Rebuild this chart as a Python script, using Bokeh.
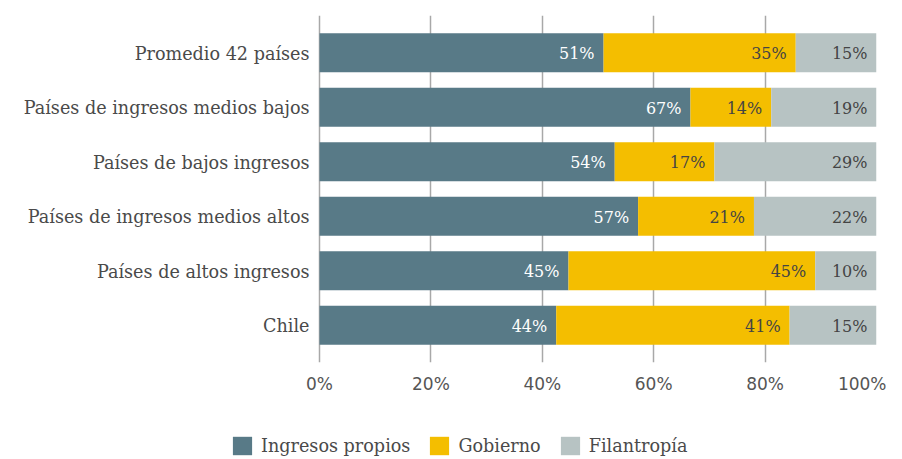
from bokeh.plotting import figure
from bokeh.layouts import column
from bokeh.models import ColumnDataSource, FactorRange, FixedTicker, Legend, LegendItem, Range1d
from bokeh.core.properties import value
from bokeh.embed import file_html
from bokeh.resources import INLINE

categories = ["Promedio 42 países", "Países de ingresos medios bajos", "Países de bajos ingresos",
              "Países de ingresos medios altos", "Países de altos ingresos", "Chile"]
propios = [51.0, 66.6, 53.0, 57.2, 44.7, 42.5]
gobierno = [34.5, 14.5, 17.9, 20.8, 44.3, 41.9]
filantropia = [14.5, 18.9, 29.1, 22.0, 11.0, 15.6]
labels_propios = ["51%", "67%", "54%", "57%", "45%", "44%"]
labels_gobierno = ["35%", "14%", "17%", "21%", "45%", "41%"]
labels_filantropia = ["15%", "19%", "29%", "22%", "10%", "15%"]
series_names = ["Ingresos propios", "Gobierno", "Filantropía"]
tick_values = [0, 20, 40, 60, 80, 100]
tick_labels = ["0%", "20%", "40%", "60%", "80%", "100%"]

colors = ["#587a87", "#f4be00", "#b7c3c3"]
SERIF = "DejaVu Serif"
SANS = "DejaVu Sans"
TXT = "#4a4a4a"

W = 886
H_MAIN, H_LEG = 400, 57
FRAME_RIGHT_PAD = 10
LABEL_SPACE = 319          # px left of the 0% line reserved for category labels
frame_w = W - FRAME_RIGHT_PAD
x_start = -LABEL_SPACE / (frame_w - LABEL_SPACE) * 100

src = ColumnDataSource(dict(cat=categories, propios=propios, gobierno=gobierno, filantropia=filantropia))
fields = ["propios", "gobierno", "filantropia"]

p = figure(width=W, height=H_MAIN, output_backend="svg", toolbar_location=None,
           y_range=FactorRange(factors=categories[::-1], range_padding=0.185, range_padding_units="absolute"),
           x_range=Range1d(x_start, 100))
p.min_border_left = 0
p.min_border_right = FRAME_RIGHT_PAD
p.min_border_top = 15
p.min_border_bottom = 38
p.outline_line_color = None

p.hbar_stack(fields, y="cat", height=0.715, color=colors, line_color=None, source=src)

# category labels left of the 0% line
cat_src = ColumnDataSource(dict(x=[0] * len(categories), y=categories, t=categories))
p.text(x="x", y="y", text="t", source=cat_src, text_align="right", text_baseline="middle",
       x_offset=-10, y_offset=1, text_color=TXT, text_font=value(SERIF), text_font_size="17.6px")

# value labels at segment ends
end1 = propios
end2 = [a + b for a, b in zip(propios, gobierno)]
end3 = [a + b + c for a, b, c in zip(propios, gobierno, filantropia)]
for ends, labs, col in [(end1, labels_propios, "white"), (end2, labels_gobierno, "#444444"),
                        (end3, labels_filantropia, "#444444")]:
    ls = ColumnDataSource(dict(x=ends, y=categories, t=labs))
    p.text(x="x", y="y", text="t", source=ls, text_align="right", text_baseline="middle",
           x_offset=-9, y_offset=1, text_color=col, text_font=value(SERIF), text_font_size="16px")

p.yaxis.visible = False
p.ygrid.grid_line_color = None
p.xgrid.ticker = FixedTicker(ticks=tick_values)
p.xgrid.grid_line_color = "#a8a8a8"
p.xgrid.grid_line_width = 1.5

p.xaxis.ticker = FixedTicker(ticks=tick_values)
p.xaxis.major_label_overrides = {v: l for v, l in zip(tick_values, tick_labels)}
p.xaxis.axis_line_color = None
p.xaxis.major_tick_line_color = None
p.xaxis.minor_tick_line_color = None
p.xaxis.major_label_text_font = SANS
p.xaxis.major_label_text_font_size = "17px"
p.xaxis.major_label_text_color = "#555555"
p.xaxis.major_label_standoff = 5

# legend strip below the chart
pl = figure(width=W, height=H_LEG, output_backend="svg", toolbar_location=None,
            y_range=FactorRange(factors=categories[::-1]), x_range=Range1d(x_start, 100))
pl.min_border_left = 0
pl.min_border_right = 0
pl.min_border_top = 0
pl.min_border_bottom = 0
pl.outline_line_color = None
pl.axis.visible = False
pl.grid.visible = False
leg_renderers = pl.hbar_stack(fields, y="cat", height=0.715, color=colors, line_color=None, source=src)
for r in leg_renderers:
    r.visible = False

legend = Legend(items=[LegendItem(label=n, renderers=[r]) for n, r in zip(series_names, leg_renderers)],
                orientation="horizontal", location=(230, 0))
legend.glyph_width = 24
legend.glyph_height = 23
legend.label_height = 23
legend.label_standoff = 7
legend.spacing = 17
legend.padding = 0
legend.margin = 0
legend.border_line_color = None
legend.background_fill_alpha = 0
legend.inactive_fill_alpha = 0
legend.label_text_font = SERIF
legend.label_text_font_size = "17.6px"
legend.label_text_color = TXT
pl.add_layout(legend)

open("out.html", "w").write(file_html(column(p, pl, spacing=0), INLINE))
